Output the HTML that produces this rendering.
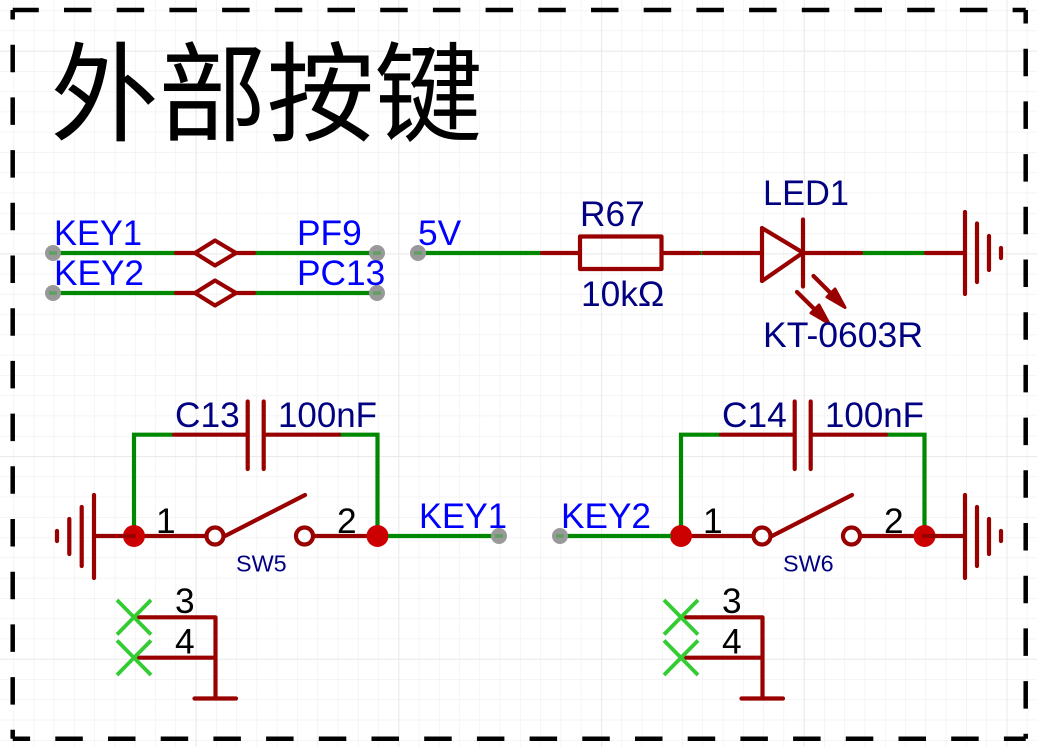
<!DOCTYPE html>
<html><head><meta charset="utf-8"><style>
html,body{margin:0;padding:0;background:#fff;width:1037px;height:747px;overflow:hidden}
svg{display:block}
text{font-family:"Liberation Sans","Noto Sans CJK SC",sans-serif;font-size:35.3px}
.b{fill:#0000ff}.n{fill:#000080}.k{fill:#000}
.r{stroke:#990000;stroke-width:4.2;fill:none;stroke-linecap:round;stroke-linejoin:round}
.g{stroke:#008800;stroke-width:4.2;fill:none;stroke-linejoin:miter}
.f{stroke:#000;stroke-width:4.5;fill:none}
.x{stroke:#33cc33;stroke-width:3.8;fill:none}
</style></head><body>
<svg width="1037" height="747" viewBox="0 0 1037 747" xmlns="http://www.w3.org/2000/svg">
<defs>
<pattern id="m" x="13.3" y="10.2" width="20.27" height="20.27" patternUnits="userSpaceOnUse"><path d="M0 0V20.27M0 0H20.27" stroke="#eeeeee" stroke-width="1.2" fill="none"/></pattern>
<pattern id="M" x="195.7" y="50.7" width="202.7" height="202.7" patternUnits="userSpaceOnUse"><path d="M0 0V202.7M0 0H202.7" stroke="#e8e8e8" stroke-width="1.8" fill="none"/></pattern>
<g id="sw">
<path class="g" d="M173 434.7H134V536M339 434.7H377.5V536"/>
<path class="r" d="M174 434.7H247M264 434.7H339M247.7 401.5V469M263.7 401.5V469"/>
<path class="r" d="M134 536H205M225 536L305 495M314 536H377"/>
<circle cx="215" cy="536" r="8.5" fill="#fff" stroke="#990000" stroke-width="4.2"/>
<circle cx="304.5" cy="536" r="8.5" fill="#fff" stroke="#990000" stroke-width="4.2"/>
<circle cx="134" cy="536" r="11" fill="#cc0000"/>
<circle cx="377.5" cy="536" r="11" fill="#cc0000"/>
<path class="r" d="M134 617.3H215.5M134 657.7H215.5M215.5 617.3V698.5M194.5 698.5H236"/>
<path class="x" d="M117 600L151 634.5M151 600L117 634.5M117 640.5L151 675M151 640.5L117 675"/>
<text x="156" y="533" class="k">1</text>
<text x="337" y="533" class="k">2</text>
<text x="175" y="613" class="k">3</text>
<text x="175" y="653.5" class="k">4</text>
</g>
<g id="pin"><circle r="8" fill="#999999"/><path d="M-4 0H4" stroke="#5f9f5f" stroke-width="3.5"/></g>
</defs>
<rect width="1037" height="747" fill="#fff"/>
<rect width="1037" height="747" fill="url(#m)"/>
<rect width="1037" height="747" fill="url(#M)"/>

<g class="f">
<line x1="12.7" y1="10" x2="1025.7" y2="10" stroke-dasharray="27.5 25.2" stroke-dashoffset="1.4"/>
<line x1="12.7" y1="10" x2="12.7" y2="738.7" stroke-dasharray="27.5 25.2" stroke-dashoffset="18"/>
<line x1="12.7" y1="738.7" x2="1025.7" y2="738.7" stroke-dasharray="27.5 25.2" stroke-dashoffset="10.1"/>
<line x1="1025.7" y1="10" x2="1025.7" y2="738.7" stroke-dasharray="27.5 25.2" stroke-dashoffset="14"/>
</g>

<text x="50.5" y="132.5" class="k" style="font-size:108px;font-family:'WenQuanYi Zen Hei','Noto Sans CJK SC',sans-serif">外部按键</text>

<!-- net ties -->
<path class="g" d="M53 253H176M254 253H377M53 293H176M254 293H377"/>
<path class="r" d="M176 253H195M236 253H254M176 293H195M236 293H254"/>
<path class="r" d="M195 253L215 240.5L236 253L215 265.5Z"/>
<path class="r" d="M195 293L215 280.5L236 293L215 305.5Z"/>
<use href="#pin" x="53" y="253"/><use href="#pin" x="377" y="253"/>
<use href="#pin" x="53" y="293"/><use href="#pin" x="377" y="293"/>
<text x="54" y="245" class="b" textLength="88" lengthAdjust="spacingAndGlyphs">KEY1</text>
<text x="297" y="245" class="b">PF9</text>
<text x="54" y="285" class="b" textLength="90" lengthAdjust="spacingAndGlyphs">KEY2</text>
<text x="297" y="285" class="b">PC13</text>

<!-- 5V / LED -->
<path class="g" d="M418 253H541M700 253H703M862 253H925"/>
<use href="#pin" x="418" y="253"/>
<text x="418" y="245" class="b">5V</text>
<path class="r" d="M542 253H580M662 253H699M704 253H762M803 253H861M926 253H965"/>
<rect class="r" x="580" y="236.5" width="81.5" height="32.5"/>
<path class="r" d="M762 228L803 252.7L762 281Z"/>
<path class="r" d="M803 219.5V286.5"/>
<path class="r" d="M965 212V294M977 223.5V282M989 236V270M1001 248V258"/>
<path class="r" d="M813.5 276L842 304.5M797 292L826 320.5"/>
<path d="M845 307.5L827 297L835 289Z" fill="#990000" stroke="#990000" stroke-width="3" stroke-linejoin="round"/>
<path d="M829 323.5L811 313L819 305Z" fill="#990000" stroke="#990000" stroke-width="3" stroke-linejoin="round"/>
<text x="580" y="226" class="n">R67</text>
<text x="581" y="306" class="n">10kΩ</text>
<text x="763" y="205" class="n" textLength="86" lengthAdjust="spacingAndGlyphs">LED1</text>
<text x="763" y="347" class="n" textLength="160" lengthAdjust="spacingAndGlyphs">KT-0603R</text>

<!-- SW5 -->
<use href="#sw"/>
<path class="r" d="M94 536H134M94 495V578M81.7 507V566M69.3 519V554M57 531V541"/>
<path class="g" d="M388 536H499"/>
<use href="#pin" x="499" y="536"/>
<text x="419" y="528" class="b" textLength="88" lengthAdjust="spacingAndGlyphs">KEY1</text>
<text x="175" y="427" class="n">C13</text>
<text x="278" y="427" class="n" textLength="99" lengthAdjust="spacingAndGlyphs">100nF</text>
<text x="236" y="571.5" class="n" style="font-size:23.4px">SW5</text>

<!-- SW6 -->
<use href="#sw" x="547"/>
<path class="r" d="M924 536H965M965 495V578M977 507V566M989 519V554M1001 531V541"/>
<path class="g" d="M560 536H671"/>
<use href="#pin" x="560" y="536"/>
<text x="561" y="528" class="b" textLength="90" lengthAdjust="spacingAndGlyphs">KEY2</text>
<text x="722" y="427" class="n">C14</text>
<text x="825" y="427" class="n" textLength="99" lengthAdjust="spacingAndGlyphs">100nF</text>
<text x="783" y="571.5" class="n" style="font-size:23.4px">SW6</text>
</svg>
</body></html>
